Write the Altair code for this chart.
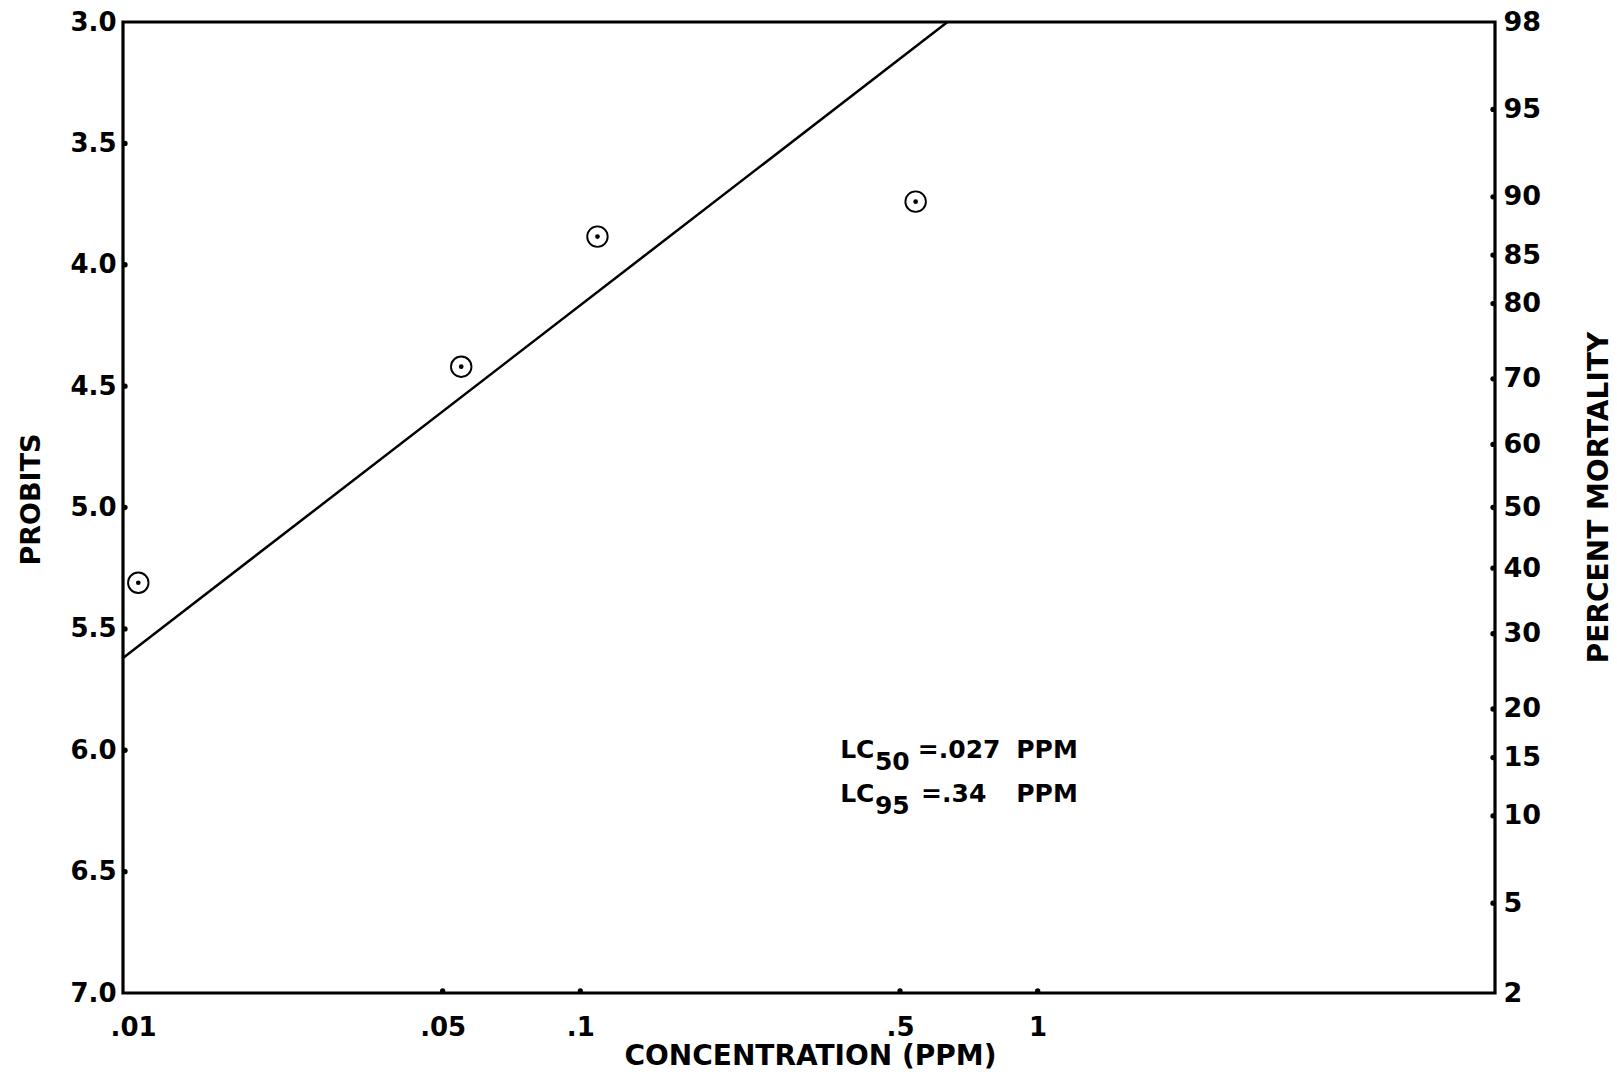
import json
import altair as alt
import pandas as pd

# ---------------- data ----------------
point_conc = [0.0108, 0.0549, 0.109, 0.541]
point_probit = [5.31, 4.42, 3.884, 3.74]

line_conc = [0.01, 0.635]
line_probit = [5.62, 3.0]

x_tick_values = [0.01, 0.05, 0.1, 0.5, 1]
x_tick_labels = [".01", ".05", ".1", ".5", "1"]

probit_ticks = [3.0, 3.5, 4.0, 4.5, 5.0, 5.5, 6.0, 6.5, 7.0]

pct_labels = ["98", "95", "90", "85", "80", "70", "60", "50", "40", "30", "20", "15", "10", "5", "2"]
pct_positions = [3.0, 3.36, 3.72, 3.96, 4.16, 4.47, 4.74, 5.0, 5.25, 5.52, 5.83, 6.03, 6.27, 6.63, 7.0]

ann_text = ["LC", "50", "=.027", "PPM", "LC", "95", "=.34", "PPM"]
ann_conc = [0.370, 0.4406, 0.547, 0.898, 0.370, 0.4406, 0.556, 0.898]
ann_probit = [6.0, 6.0, 6.0, 6.0, 6.18, 6.18, 6.18, 6.18]
ann_sub = [False, True, False, False, False, True, False, False]

# ---------------- styling ----------------
FONT = "DejaVu Sans"
W, H = 1372, 971

x_scale = alt.Scale(type="log", domain=[0.01, 10], nice=False)
y_scale = alt.Scale(domain=[3, 7], reverse=True, nice=False, zero=False)

x_label_expr = "{}[indexof({}, datum.value)]".format(json.dumps(x_tick_labels), json.dumps(x_tick_values))
pct_label_expr = "{}[indexof({}, datum.value)]".format(json.dumps(pct_labels), json.dumps(pct_positions))

x_axis = alt.Axis(
    values=x_tick_values, labelExpr=x_label_expr, title="CONCENTRATION  (PPM)",
    ticks=False, domain=False, grid=False, labelPadding=21,
    labelFlush=True, labelFlushOffset=13,
    labelFont=FONT, labelFontSize=26, labelFontWeight="bold", labelColor="black",
    titleFont=FONT, titleFontSize=28, titleFontWeight="bold", titleColor="black",
    titleX=687, titleY=63, titleBaseline="middle", titleAlign="center",
)
left_axis = alt.Axis(
    values=probit_ticks, format=".1f", title="PROBITS", orient="left",
    ticks=False, domain=False, grid=False, labelPadding=7, labelFlush=False,
    labelFont=FONT, labelFontSize=26, labelFontWeight="bold", labelColor="black",
    titleFont=FONT, titleFontSize=27, titleFontWeight="bold", titleColor="black",
    titleAngle=270, titleX=-92, titleY=477, titleBaseline="middle", titleAlign="center",
)
right_axis = alt.Axis(
    values=pct_positions, labelExpr=pct_label_expr, title="PERCENT MORTALITY", orient="right",
    ticks=False, domain=False, grid=False, labelPadding=8, labelFlush=False, labelAlign="left",
    labelFont=FONT, labelFontSize=27, labelFontWeight="bold", labelColor="black",
    titleFont=FONT, titleFontSize=28, titleFontWeight="bold", titleColor="black",
    titleAngle=270, titleX=104, titleY=475, titleBaseline="middle", titleAlign="center",
)

X = alt.X("conc:Q", scale=x_scale, axis=x_axis)
Y = alt.Y("probit:Q", scale=y_scale, axis=left_axis)

df_line = pd.DataFrame({"conc": line_conc, "probit": line_probit})
df_pts = pd.DataFrame({"conc": point_conc, "probit": point_probit})
df_left_ticks = pd.DataFrame({"conc": [x_tick_values[0]] * (len(probit_ticks) - 2), "probit": probit_ticks[1:-1]})
df_bottom_ticks = pd.DataFrame({"conc": x_tick_values[1:], "probit": [probit_ticks[-1]] * (len(x_tick_values) - 1)})
df_right_ticks = pd.DataFrame({"conc": [10] * (len(pct_positions) - 2), "probit": pct_positions[1:-1]})
df_ann = pd.DataFrame({"conc": ann_conc, "probit": ann_probit, "text": ann_text, "sub": ann_sub})

line = alt.Chart(df_line).mark_line(color="black", strokeWidth=2.5).encode(x=X, y=Y)
outer = alt.Chart(df_pts).mark_point(shape="circle", filled=False, size=420, color="black",
                                     strokeWidth=1.9, opacity=1).encode(x=X, y=Y)
inner = alt.Chart(df_pts).mark_point(shape="circle", filled=True, size=22, color="black",
                                     opacity=1).encode(x=X, y=Y)
left_dots = alt.Chart(df_left_ticks).mark_circle(size=28, color="black", opacity=1, xOffset=2).encode(x=X, y=Y)
bottom_dots = alt.Chart(df_bottom_ticks).mark_circle(size=28, color="black", opacity=1, yOffset=-2).encode(x=X, y=Y)

ann_main = alt.Chart(df_ann).transform_filter("!datum.sub").mark_text(
    font=FONT, fontSize=25, fontWeight="bold", align="left", baseline="middle", color="black"
).encode(x=X, y=Y, text="text:N")
ann_subs = alt.Chart(df_ann).transform_filter("datum.sub").mark_text(
    font=FONT, fontSize=25, fontWeight="bold", align="left", baseline="middle", color="black", dy=12
).encode(x=X, y=Y, text="text:N")

left_layer = alt.layer(line, outer, inner, left_dots, bottom_dots, ann_main, ann_subs)

right_dots = alt.Chart(df_right_ticks).mark_circle(size=28, color="black", opacity=1, xOffset=-2).encode(
    x=X, y=alt.Y("probit:Q", scale=y_scale, axis=right_axis)
)

chart = alt.layer(left_layer, right_dots).resolve_scale(y="independent").properties(
    width=W, height=H,
    padding={"left": 123, "top": 22, "right": 122, "bottom": 81},
    autosize=alt.AutoSizeParams(type="none"),
    background="white",
).configure_view(stroke="black", strokeWidth=3.2)

chart.save("out.html", embed_options={"renderer": "svg", "actions": False})
